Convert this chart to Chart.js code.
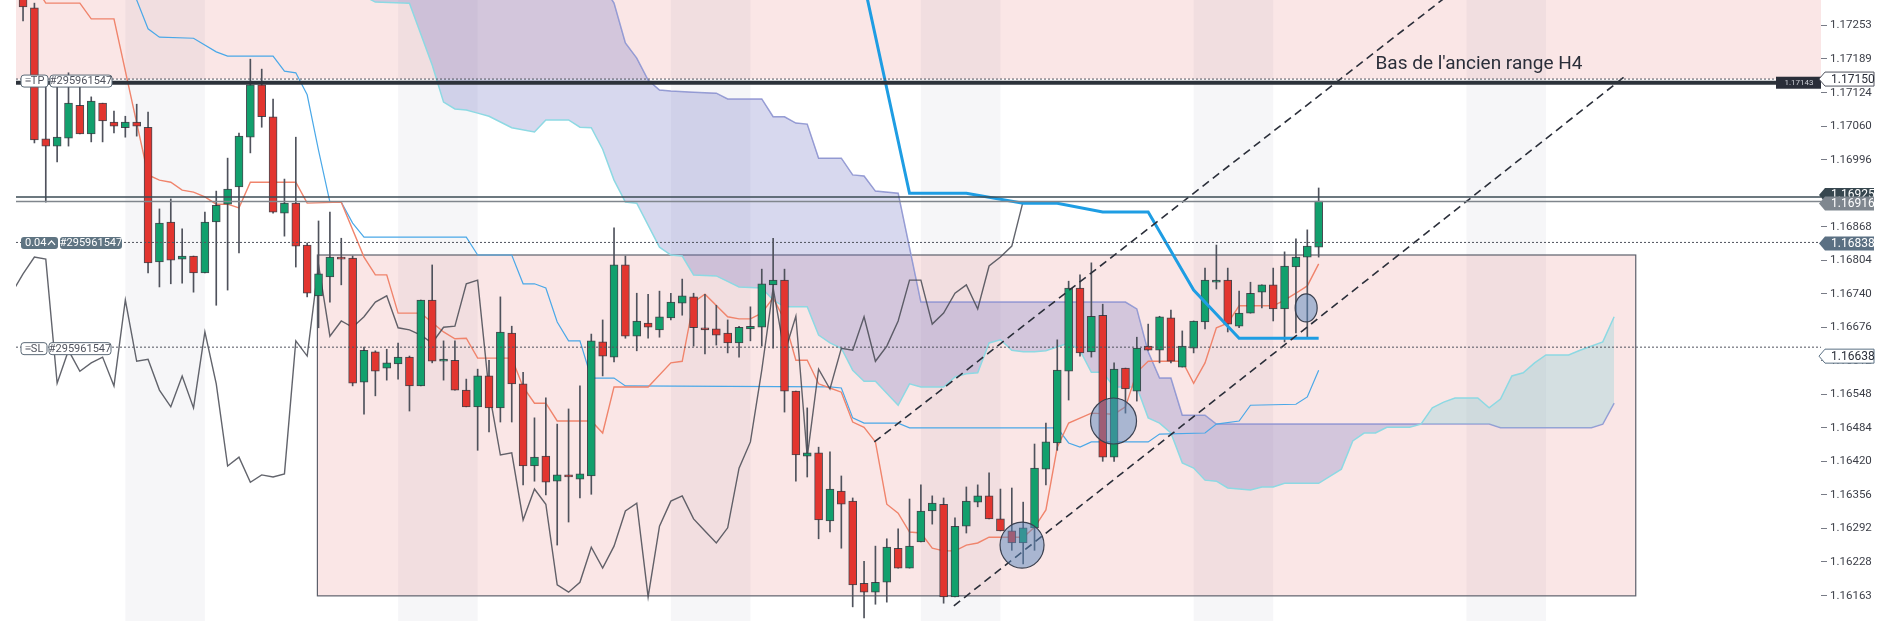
<!DOCTYPE html>
<html>
<head>
<meta charset="utf-8">
<script src="https://cdn.jsdelivr.net/npm/chart.js"></script>
<style>
  html, body { margin: 0; padding: 0; background: #ffffff; }
  #wrap { width: 1879px; height: 621px; }
</style>
</head>
<body>
<div id="wrap"><canvas id="chart" width="1879" height="621"></canvas></div>
<script>
// ---- candles (H1), bar index 0..114 ----
const opens = [1.17311,1.17286,1.17036,1.17022,1.17037,1.17100,1.17045,1.17104,1.17068,1.17057,
  1.17068,1.17058,1.16801,1.16877,1.16806,1.16812,1.16780,1.16877,1.16911,1.16944,
  1.17039,1.17139,1.17078,1.16894,1.16913,1.16833,1.16736,1.16772,1.16810,1.16808,
  1.16571,1.16629,1.16598,1.16606,1.16619,1.16564,1.16728,1.16611,1.16613,1.16556,
  1.16524,1.16583,1.16522,1.16665,1.16568,1.16411,1.16430,1.16382,1.16394,1.16386,
  1.16392,1.16648,1.16619,1.16795,1.16659,1.16684,1.16671,1.16694,1.16722,1.16734,
  1.16675,1.16673,1.16665,1.16646,1.16673,1.16676,1.16757,1.16766,1.16554,1.16430,
  1.16436,1.16306,1.16363,1.16344,1.16187,1.16170,1.16189,1.16254,1.16216,1.16266,
  1.16325,1.16338,1.16161,1.16296,1.16342,1.16354,1.16310,1.16287,1.16264,1.16293,
  1.16405,1.16455,1.16592,1.16751,1.16629,1.16699,1.16428,1.16598,1.16554,1.16640,
  1.16632,1.16694,1.16600,1.16636,1.16686,1.16762,1.16766,1.16678,1.16703,1.16743,
  1.16757,1.16711,1.16791,1.16810,1.16829];
const highs = [1.17320,1.17295,1.17148,1.17144,1.17162,1.17135,1.17116,1.17104,1.17089,1.17079,
  1.17102,1.17087,1.16902,1.16921,1.16864,1.16812,1.16896,1.16936,1.16999,1.17047,
  1.17188,1.17169,1.17112,1.16959,1.17039,1.16837,1.16879,1.16896,1.16846,1.16812,
  1.16638,1.16631,1.16634,1.16646,1.16621,1.16728,1.16795,1.16650,1.16650,1.16577,
  1.16596,1.16613,1.16734,1.16678,1.16590,1.16503,1.16541,1.16491,1.16520,1.16564,
  1.16663,1.16690,1.16866,1.16812,1.16741,1.16739,1.16745,1.16741,1.16768,1.16741,
  1.16739,1.16718,1.16690,1.16678,1.16715,1.16787,1.16846,1.16787,1.16554,1.16522,
  1.16447,1.16438,1.16392,1.16350,1.16229,1.16258,1.16272,1.16291,1.16348,1.16375,
  1.16354,1.16350,1.16312,1.16371,1.16375,1.16398,1.16367,1.16369,1.16342,1.16453,
  1.16493,1.16652,1.16764,1.16776,1.16799,1.16720,1.16608,1.16598,1.16657,1.16682,
  1.16697,1.16709,1.16669,1.16688,1.16789,1.16833,1.16789,1.16745,1.16762,1.16757,
  1.16789,1.16820,1.16845,1.16862,1.16942];
const lows = [1.17261,1.17028,1.16915,1.16992,1.17022,1.17045,1.17030,1.17030,1.17047,1.17039,
  1.17041,1.16780,1.16753,1.16759,1.16760,1.16743,1.16780,1.16718,1.16747,1.16818,
  1.17009,1.17058,1.16894,1.16850,1.16791,1.16734,1.16675,1.16724,1.16757,1.16564,
  1.16510,1.16545,1.16575,1.16577,1.16516,1.16564,1.16608,1.16575,1.16556,1.16524,
  1.16441,1.16476,1.16495,1.16495,1.16375,1.16382,1.16356,1.16260,1.16304,1.16350,
  1.16357,1.16583,1.16610,1.16655,1.16631,1.16655,1.16657,1.16690,1.16699,1.16640,
  1.16625,1.16642,1.16627,1.16619,1.16650,1.16640,1.16636,1.16514,1.16382,1.16390,
  1.16272,1.16285,1.16254,1.16142,1.16121,1.16147,1.16151,1.16216,1.16216,1.16266,
  1.16300,1.16149,1.16161,1.16283,1.16333,1.16310,1.16287,1.16250,1.16224,1.16250,
  1.16375,1.16441,1.16537,1.16621,1.16619,1.16420,1.16420,1.16512,1.16535,1.16632,
  1.16608,1.16608,1.16600,1.16627,1.16673,1.16749,1.16667,1.16675,1.16703,1.16713,
  1.16688,1.16648,1.16665,1.16655,1.16810];
const closes = [1.17288,1.17034,1.17022,1.17039,1.17104,1.17045,1.17108,1.17070,1.17060,1.17068,
  1.17060,1.16799,1.16875,1.16804,1.16812,1.16780,1.16877,1.16909,1.16940,1.17041,
  1.17139,1.17078,1.16896,1.16913,1.16831,1.16741,1.16778,1.16810,1.16806,1.16569,
  1.16632,1.16592,1.16608,1.16619,1.16564,1.16728,1.16611,1.16615,1.16556,1.16524,
  1.16583,1.16522,1.16667,1.16568,1.16411,1.16428,1.16380,1.16394,1.16390,1.16396,
  1.16650,1.16621,1.16795,1.16659,1.16688,1.16676,1.16696,1.16724,1.16736,1.16675,
  1.16671,1.16661,1.16646,1.16676,1.16678,1.16759,1.16766,1.16554,1.16432,1.16436,
  1.16308,1.16367,1.16338,1.16184,1.16170,1.16189,1.16256,1.16216,1.16258,1.16325,
  1.16340,1.16161,1.16296,1.16344,1.16354,1.16310,1.16287,1.16264,1.16293,1.16407,
  1.16457,1.16594,1.16751,1.16627,1.16697,1.16428,1.16596,1.16558,1.16636,1.16632,
  1.16696,1.16611,1.16640,1.16688,1.16766,1.16766,1.16682,1.16703,1.16741,1.16757,
  1.16711,1.16793,1.16810,1.16831,1.16917];

// ---- ichimoku lines (bar index / price) ----
const tenkanIdx = [1,2,5,6,8,11,12,13,14,15,16,17,18,19,20,24,25,28,30,31,32,33,35,37,38,39,40,43,44,45,46,47,50,
  51,52,55,57,58,59,60,62,63,64,65,66,67,68,69,70,71,72,73,74,75,76,77,78,79,80,81,82,83,84,85,
  88,89,90,91,92,94,96,97,98,99,102,103,104,105,106,107,110,111,112,113,114];
const tenkanVal = [1.17330,1.17295,1.17295,1.17265,1.17265,1.16967,1.16957,1.16953,1.16938,1.16934,1.16925,1.16911,1.16911,1.16904,1.16953,
  1.16953,1.16913,1.16915,1.16810,1.16776,1.16776,1.16703,1.16703,1.16667,1.16654,1.16655,1.16617,1.16617,1.16562,1.16531,1.16531,1.16497,1.16497,
  1.16474,1.16562,1.16562,1.16608,1.16611,1.16724,1.16739,1.16696,1.16692,1.16692,
  1.16703,1.16732,1.16690,1.16613,1.16613,1.16568,1.16560,1.16552,1.16495,1.16485,1.16457,1.16338,1.16321,1.16285,1.16283,1.16254,1.16249,1.16249,1.16260,1.16264,1.16275,
  1.16275,1.16294,1.16327,1.16447,1.16493,1.16512,1.16510,1.16524,1.16590,1.16611,
  1.16611,1.16569,1.16608,1.16675,1.16684,1.16717,1.16717,1.16728,1.16741,1.16755,1.16797];

const kijunIdx = [9,10,11,12,15,17,18,22,23,24,25,26,27,28,29,30,39,40,43,44,45,46,47,48,49,50,52,53,71,72,
  73,74,77,78,91,92,93,94,99,100,104,105,107,108,112,113,114];
const kijunVal = [1.17340,1.17301,1.17246,1.17230,1.17228,1.17202,1.17194,1.17194,1.17165,1.17162,
  1.17120,1.17014,1.16915,1.16915,1.16875,1.16848,1.16848,1.16814,1.16814,1.16759,
  1.16759,1.16751,1.16686,1.16650,1.16650,1.16579,1.16579,1.16564,1.16562,1.16560,
  1.16503,1.16493,1.16493,1.16484,1.16484,1.16455,1.16447,1.16457,1.16457,1.16472,
  1.16474,1.16491,1.16497,1.16527,1.16529,1.16543,1.16594];

const spanAIdx = [29,31,34,36,37,38,39,40,41,43,45,46,48,49,50,51,52,53,54,56,57,58,59,61,63,65,66,67,69,70,
  71,72,73,74,75,76,77,78,79,81,82,83,84,85,86,87,88,89,90,92,93,94,95,96,98,99,100,101,102,103,
  104,105,106,108,109,110,111,114,116,117,118,119,120,122,123,124,125,126,128,129,130,131,132,133,134,136,137,139,140];
const spanAVal = [1.17320,1.17297,1.17295,1.17177,1.17106,1.17093,1.17091,1.17085,1.17079,1.17057,
  1.17049,1.17072,1.17072,1.17058,1.17057,1.17016,1.16957,1.16915,1.16913,1.16829,
  1.16814,1.16812,1.16776,1.16774,1.16753,1.16751,1.16728,1.16715,1.16715,1.16661,
  1.16646,1.16636,1.16594,1.16573,1.16573,1.16550,1.16527,1.16568,1.16562,1.16562,
  1.16581,1.16587,1.16589,1.16646,1.16652,1.16632,1.16629,1.16629,1.16631,1.16646,
  1.16632,1.16590,1.16590,1.16562,1.16562,1.16503,1.16493,1.16474,1.16417,1.16407,
  1.16384,1.16382,1.16369,1.16365,1.16371,1.16371,1.16378,1.16378,1.16405,1.16459,
  1.16474,1.16474,1.16485,1.16485,1.16491,1.16522,1.16533,1.16541,1.16541,1.16522,
  1.16539,1.16583,1.16589,1.16608,1.16623,1.16623,1.16632,1.16648,1.16696];

const spanBIdx = [28,51,52,53,54,55,56,57,59,61,62,65,66,67,68,69,70,72,73,74,75,77,79,97,98,99,100,101,102,104,105,129,130,138,139,140];
const spanBVal = [1.17380,1.17330,1.17295,1.17219,1.17190,1.17148,1.17129,1.17127,1.17125,1.17123,
  1.17112,1.17112,1.17078,1.17078,1.17066,1.17064,1.16999,1.16999,1.16967,1.16965,
  1.16936,1.16932,1.16724,1.16724,1.16711,1.16629,1.16579,1.16579,1.16508,1.16508,
  1.16491,1.16491,1.16484,1.16484,1.16491,1.16531];
const chikouShift = 26;

// ---- other drawings ----
const blueIdx = [74,78,83,88,91,95,99,103,107,114];
const blueVal = [1.17332,1.16932,1.16932,1.16913,1.16913,1.16896,1.16896,1.16747,1.16655,1.16655];
const channelUpIdx = [74.9, 127.1], channelUpVal = [1.16457, 1.17339];
const channelLowIdx = [81.9, 141.0], channelLowVal = [1.16144, 1.17156];

const bandStart = [9, 33, 57, 79, 103, 127];
const bandEnd = [16, 40, 64, 86, 110, 134];
const rangeBoxIdx = [25.9, 141.9], rangeBoxVal = [1.16163, 1.16814];
const topZoneVal = [1.17150, 1.17400];

const tpLevel = 1.17150, oldRangeLevel = 1.17143;
const lineDark = 1.16925, lastPrice = 1.16916;
const entryLevel = 1.16838, slLevel = 1.16638;
const orderId = '#295961547';

const circleIdx = [87.9, 95.95, 112.9];
const circleVal = [1.16260, 1.16497, 1.16713];
const noteIdx = 119.0, noteVal = 1.17179, noteText = "Bas de l'ancien range H4";

const tickValues = [1.17253,1.17189,1.17124,1.17060,1.16996,1.16932,1.16868,1.16804,1.16740,1.16676,
  1.16612,1.16548,1.16484,1.16420,1.16356,1.16292,1.16228,1.16163];
const xMin = -0.62, xMax = 158.2, yMin = 1.16115, yMax = 1.17301;

// ---- colours ----
const GREEN = '#12a06d', RED = '#e2352f';
const PINK = 'rgba(220,90,90,0.15)';
const BAND = 'rgba(70,80,110,0.05)';

function pts(xs, ys) { return xs.map((x, k) => ({x: x, y: ys[k]})); }

const idx = opens.map((_, i) => i);
const wickData = idx.map(i => ({x: i, y: [lows[i], highs[i]]}));
const bodyData = idx.map(i => ({x: i, y: [opens[i], closes[i]]}));
const bodyColours = idx.map(i => closes[i] >= opens[i] ? GREEN : RED);
const chikouData = idx.map(i => ({x: i - chikouShift, y: closes[i]}));

function lineSet(data, colour, width, order, extra) {
  return Object.assign({
    type: 'line', data: data, borderColor: colour, borderWidth: width,
    pointRadius: 0, tension: 0, fill: false, order: order
  }, extra || {});
}

function roundBox(ctx, x, y, w, h, fill, stroke) {
  ctx.beginPath();
  ctx.roundRect(x, y, w, h, 3);
  ctx.fillStyle = fill; ctx.fill();
  if (stroke) { ctx.strokeStyle = stroke; ctx.lineWidth = 1; ctx.stroke(); }
}

function priceTag(ctx, left, yc, text, fill, stroke, textColour) {
  const r = 1874, h = 14;
  ctx.beginPath();
  ctx.moveTo(left, yc);
  ctx.lineTo(left + 6, yc - h / 2);
  ctx.lineTo(r, yc - h / 2);
  ctx.lineTo(r, yc + h / 2);
  ctx.lineTo(left + 6, yc + h / 2);
  ctx.closePath();
  ctx.fillStyle = fill; ctx.fill();
  if (stroke) { ctx.strokeStyle = stroke; ctx.lineWidth = 1; ctx.stroke(); }
  ctx.fillStyle = textColour;
  ctx.font = '12px Roboto';
  ctx.textAlign = 'left'; ctx.textBaseline = 'middle';
  ctx.fillText(text, 1831, yc + 0.5);
}

const overlay = {
  id: 'overlay',
  beforeDraw(chart) {
    const {ctx, chartArea: a, scales: {x, y}} = chart;
    ctx.save();
    ctx.beginPath(); ctx.rect(a.left, a.top, a.right - a.left, a.bottom - a.top); ctx.clip();
    // old range zone at the top
    const zt = y.getPixelForValue(topZoneVal[1]), zb = y.getPixelForValue(topZoneVal[0]);
    ctx.fillStyle = PINK;
    ctx.fillRect(a.left, zt, a.right - a.left, zb - zt);
    // session bands
    ctx.fillStyle = BAND;
    bandStart.forEach((s, k) => {
      const l = x.getPixelForValue(s), r = x.getPixelForValue(bandEnd[k]);
      ctx.fillRect(l, a.top, r - l, a.bottom - a.top);
    });
    // range rectangle
    const bl = x.getPixelForValue(rangeBoxIdx[0]), br = x.getPixelForValue(rangeBoxIdx[1]);
    const bt = y.getPixelForValue(rangeBoxVal[1]), bb = y.getPixelForValue(rangeBoxVal[0]);
    ctx.fillStyle = PINK;
    ctx.fillRect(bl, bt, br - bl, bb - bt);
    ctx.strokeStyle = '#5d606b'; ctx.lineWidth = 1.2;
    ctx.strokeRect(bl, bt, br - bl, bb - bt);
    ctx.restore();
  },
  afterDatasetsDraw(chart) {
    const {ctx, chartArea: a, scales: {x, y}} = chart;
    ctx.save();
    ctx.beginPath(); ctx.rect(a.left, a.top, a.right - a.left, a.bottom - a.top); ctx.clip();

    function hline(price, colour, width, dash) {
      const py = y.getPixelForValue(price);
      ctx.beginPath();
      ctx.setLineDash(dash || []);
      ctx.strokeStyle = colour; ctx.lineWidth = width;
      ctx.moveTo(a.left, py); ctx.lineTo(a.right, py); ctx.stroke();
      ctx.setLineDash([]);
    }
    hline(oldRangeLevel, '#2c323a', 4);
    hline(tpLevel, '#50535e', 1, [2, 2]);
    hline(lineDark, '#3b4b55', 1.5);
    hline(lastPrice, '#80868d', 1.5);
    hline(entryLevel, '#50535e', 1, [2, 2]);
    hline(slLevel, '#50535e', 1, [2, 2]);

    // circles
    const radii = [[22, 23], [23, 23], [11, 14]];
    circleIdx.forEach((ci, k) => {
      ctx.beginPath();
      ctx.ellipse(x.getPixelForValue(ci), y.getPixelForValue(circleVal[k]), radii[k][0], radii[k][1], 0, 0, Math.PI * 2);
      ctx.fillStyle = 'rgba(90,135,190,0.5)'; ctx.fill();
      ctx.strokeStyle = '#3b4150'; ctx.lineWidth = 1.2; ctx.stroke();
    });

    // text note
    ctx.fillStyle = '#2a2e39';
    ctx.font = '19px Roboto';
    ctx.textAlign = 'left'; ctx.textBaseline = 'middle';
    ctx.fillText(noteText, x.getPixelForValue(noteIdx), y.getPixelForValue(noteVal));

    // order labels on the left
    const L = a.left + 5;
    ctx.font = '11px Roboto';
    ctx.textBaseline = 'middle'; ctx.textAlign = 'center';
    let yc = y.getPixelForValue(tpLevel) + 2;
    roundBox(ctx, L, yc - 6, 27, 12, '#ffffff', '#5d6b78');
    roundBox(ctx, L + 29, yc - 6, 62, 12, '#ffffff', '#5d6b78');
    ctx.fillStyle = '#50535e';
    ctx.fillText('\u2261TP', L + 13.5, yc + 0.5);
    ctx.fillText(orderId, L + 60, yc + 0.5);

    yc = y.getPixelForValue(entryLevel) + 0.5;
    roundBox(ctx, L, yc - 6, 37, 12, '#5f7482');
    roundBox(ctx, L + 39, yc - 6, 62, 12, '#5f7482');
    ctx.fillStyle = '#ffffff';
    ctx.textAlign = 'left';
    ctx.fillText('0.04', L + 4, yc + 0.5);
    ctx.beginPath();
    ctx.strokeStyle = '#ffffff'; ctx.lineWidth = 1.3;
    ctx.moveTo(L + 27, yc + 2); ctx.lineTo(L + 30.5, yc - 2); ctx.lineTo(L + 34, yc + 2); ctx.stroke();
    ctx.textAlign = 'center';
    ctx.fillText(orderId, L + 70, yc + 0.5);

    yc = y.getPixelForValue(slLevel) + 1.5;
    roundBox(ctx, L, yc - 6, 26, 12, '#ffffff', '#5d6b78');
    roundBox(ctx, L + 28, yc - 6, 62, 12, '#ffffff', '#5d6b78');
    ctx.fillStyle = '#50535e';
    ctx.fillText('\u2261SL', L + 13, yc + 0.5);
    ctx.fillText(orderId, L + 59, yc + 0.5);

    // label of the old range line near the axis
    const oy = y.getPixelForValue(oldRangeLevel);
    ctx.fillStyle = '#2a2e39';
    ctx.fillRect(a.right - 45, oy - 6, 45, 12);
    ctx.fillStyle = '#c9ccd3';
    ctx.font = '8px Roboto';
    ctx.textAlign = 'center';
    ctx.fillText(oldRangeLevel.toFixed(5), a.right - 22, oy);
    ctx.restore();

    // price tags on the axis
    ctx.save();
    const left = a.right - 2;
    priceTag(ctx, left, y.getPixelForValue(tpLevel), tpLevel.toFixed(5), '#ffffff', '#50535e', '#2a2e39');
    priceTag(ctx, left, y.getPixelForValue(lineDark) - 2, lineDark.toFixed(5), '#37474f', null, '#ffffff');
    priceTag(ctx, left, y.getPixelForValue(lastPrice) + 2, lastPrice.toFixed(5), '#7f878f', null, '#ffffff');
    priceTag(ctx, left, y.getPixelForValue(entryLevel) + 1, entryLevel.toFixed(5), '#5b7083', null, '#ffffff');
    priceTag(ctx, left, y.getPixelForValue(slLevel) + 9, slLevel.toFixed(5), '#ffffff', '#5b7083', '#2a2e39');
    ctx.restore();
  }
};

Chart.defaults.font.family = 'Roboto';

new Chart(document.getElementById('chart'), {
  type: 'bar',
  data: {
    datasets: [
      lineSet(pts(spanAIdx, spanAVal), '#8dd9e3', 1.5, 20, {
        fill: {target: 1, above: 'rgba(140,210,215,0.35)', below: 'rgba(110,115,195,0.28)'}
      }),
      lineSet(pts(spanBIdx, spanBVal), '#9a9ed6', 1.5, 21),
      lineSet(pts(tenkanIdx, tenkanVal), '#f0846c', 1.4, 15),
      lineSet(pts(kijunIdx, kijunVal), '#4aa8e8', 1.2, 16),
      lineSet(chikouData, 'rgba(70,73,82,0.85)', 1.4, 14),
      {
        type: 'bar', data: wickData, backgroundColor: '#4f525c', borderWidth: 0,
        barThickness: 1, grouped: false, order: 6
      },
      {
        type: 'bar', data: bodyData, backgroundColor: bodyColours,
        borderColor: 'rgba(40,44,52,0.85)', borderWidth: 1, borderSkipped: false,
        barThickness: 8, minBarLength: 1, grouped: false, order: 5
      },
      lineSet(pts(blueIdx, blueVal), '#1e9de3', 3, 3),
      lineSet(pts(channelUpIdx, channelUpVal), '#2a2e39', 1.6, 2, {borderDash: [8, 5]}),
      lineSet(pts(channelLowIdx, channelLowVal), '#2a2e39', 1.6, 2, {borderDash: [8, 5]})
    ]
  },
  options: {
    responsive: false,
    animation: false,
    devicePixelRatio: 1,
    layout: {padding: {left: 16, right: 0, top: 0, bottom: 0}},
    plugins: {legend: {display: false}, tooltip: {enabled: false}},
    scales: {
      x: {type: 'linear', min: xMin, max: xMax, offset: false, display: false, grid: {offset: false}},
      y: {
        type: 'linear', position: 'right', min: yMin, max: yMax,
        afterBuildTicks(scale) { scale.ticks = tickValues.map(v => ({value: v})); },
        afterFit(scale) { scale.width = 58; scale.paddingTop = 0; scale.paddingBottom = 0; },
        ticks: {
          autoSkip: false, padding: 3, color: '#3c3f48',
          font: {size: 11.5, family: 'Roboto'},
          callback: v => v.toFixed(5)
        },
        grid: {drawOnChartArea: false, drawTicks: true, tickLength: 6, tickColor: '#787b86', color: '#787b86'},
        border: {display: false}
      }
    }
  },
  plugins: [overlay]
});
</script>
</body>
</html>
